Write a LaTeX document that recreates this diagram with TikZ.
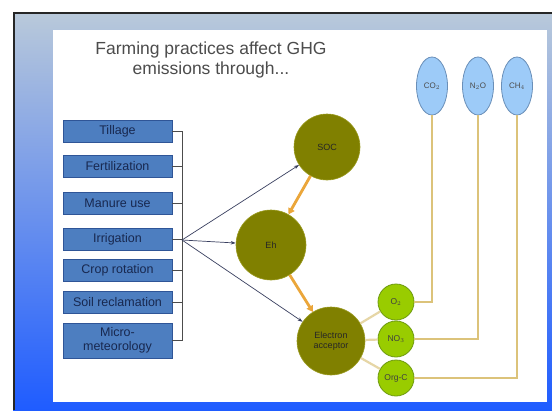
\documentclass[tikz,border=0pt]{standalone}
\usepackage{fontspec}
\setmainfont{Liberation Sans}
\usetikzlibrary{arrows.meta,shapes.geometric}
\definecolor{frametop}{HTML}{B9C9DA}
\definecolor{framemid}{HTML}{93B2EE}
\definecolor{framebot}{HTML}{1F5CFF}
\definecolor{boxfill}{HTML}{4D7EC0}
\definecolor{boxline}{HTML}{2F5597}
\definecolor{boxtext}{HTML}{18284F}
\definecolor{olive}{HTML}{808000}
\definecolor{oliveline}{HTML}{9A9A20}
\definecolor{lime}{HTML}{99CC00}
\definecolor{limeline}{HTML}{6E9A10}
\definecolor{gasfill}{HTML}{9DCBF8}
\definecolor{gasline}{HTML}{6A8FB8}
\definecolor{orangearr}{HTML}{EBA63A}
\definecolor{tanline}{HTML}{E6D6A6}
\definecolor{goldline}{HTML}{DCC37A}
\definecolor{fanline}{HTML}{3A4060}
\begin{document}
\begin{tikzpicture}[x=1pt,y=-1pt,
  practice/.style={draw=boxline, line width=0.8pt, fill=boxfill, text=boxtext,
    minimum width=109pt, minimum height=22pt, inner sep=1pt,
    font=\fontsize{12.5}{13}\selectfont, align=center},
  bigc/.style={circle, draw=oliveline, line width=0.6pt, fill=olive, text=black!85,
    minimum size=66pt, inner sep=0pt, font=\fontsize{9}{10.5}\selectfont, align=center},
  smallc/.style={circle, draw=limeline, line width=0.8pt, fill=lime, text=black!75,
    minimum size=36pt, inner sep=0pt, font=\fontsize{8.5}{9}\selectfont},
  gas/.style={ellipse, draw=gasline, line width=0.8pt, fill=gasfill, text=black!70,
    minimum width=31pt, minimum height=58pt, inner sep=0pt, font=\fontsize{8}{9}\selectfont},
  fan/.style={draw=fanline, line width=0.7pt, -{Stealth[length=5pt,width=3.5pt]}},
  bracket/.style={draw=black!70, line width=0.7pt},
  orangeflow/.style={draw=orangearr, line width=2.8pt, -{Triangle[length=6pt,width=7pt]}},
  tanlink/.style={draw=tanline, line width=2.2pt},
  goldlink/.style={draw=goldline, line width=2.2pt}
]
\useasboundingbox (0,0) rectangle (552,410);
\fill[white] (0,0) rectangle (552,410);
% frame
\shade[top color=frametop, middle color=framemid, bottom color=framebot] (13,12) rectangle (552,410);
\fill[white] (53,30) rectangle (547,402);
\draw[line width=2.5pt, color=black!85] (14,410) -- (14,13.2) -- (552,13.2);

% title
\node[text=black!70, font=\fontsize{17.5}{20}\selectfont, align=center] (title) at (211,60)
  {Farming practices affect GHG\\emissions through...};

% practices
\node[practice] (b1) at (117.5,131) {Tillage};
\node[practice] (b2) at (117.5,166.5) {Fertilization};
\node[practice] (b3) at (117.5,203.5) {Manure use};
\node[practice] (b4) at (117.5,239) {Irrigation};
\node[practice] (b5) at (117.5,270.5) {Crop rotation};
\node[practice] (b6) at (117.5,302) {Soil reclamation};
\node[practice, minimum height=35pt, font=\fontsize{12.5}{14}\selectfont] (b7) at (117.5,340.5) {Micro-\\meteorology};

\coordinate (hub) at (182,240);
\foreach \b in {b1,b2,b3,b4,b5,b6,b7} { \draw[bracket] (\b.east) -| (hub); }

% circles
\node[bigc] (soc) at (327,147) {SOC};
\node[bigc, minimum size=70pt] (eh) at (271,245) {Eh};
\node[bigc, minimum size=68pt] (ea) at (331,341) {Electron\\acceptor};
\node[smallc] (o2) at (396,302) {O$_2$};
\node[smallc] (no3) at (396,339) {NO$_3$};
\node[smallc] (orgc) at (396,378) {Org-C};

% gases
\node[gas] (co2) at (432,86) {CO$_2$};
\node[gas] (n2o) at (478,86) {N$_2$O};
\node[gas] (ch4) at (517,86) {CH$_4$};

% connectors
\draw[fan] (hub) -- (soc);
\draw[fan] (hub) -- (eh);
\draw[fan] (hub) -- (ea);
\draw[orangeflow] (soc) -- (eh);
\draw[orangeflow] (eh) -- (ea);
\draw[tanlink] (ea) -- (o2);
\draw[tanlink] (ea) -- (no3);
\draw[tanlink] (ea) -- (orgc);
\draw[goldlink] (o2.east) -| (co2.south);
\draw[goldlink] (no3.east) -| (n2o.south);
\draw[goldlink] (orgc.east) -| (ch4.south);
\end{tikzpicture}
\end{document}
